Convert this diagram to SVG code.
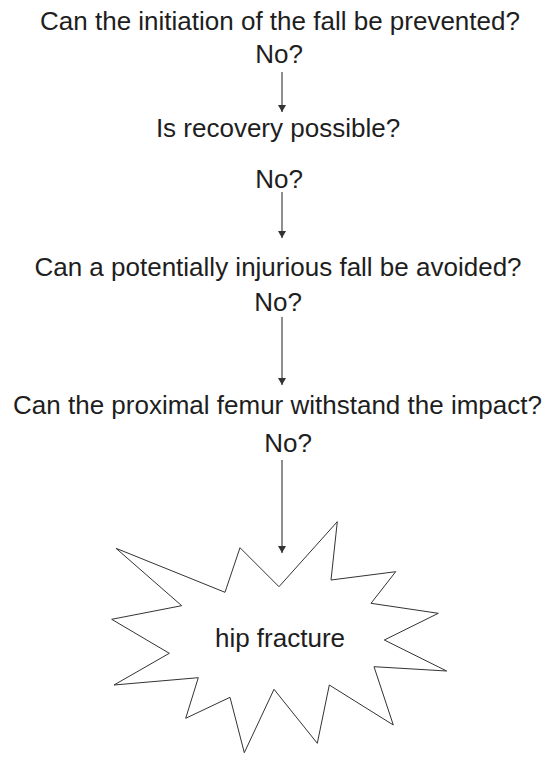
<svg xmlns="http://www.w3.org/2000/svg" width="552" height="762" viewBox="0 0 552 762">
<defs>
<style>
.t{font-family:"Liberation Sans",Arial,sans-serif;font-size:26px;fill:#1e1e1e;text-anchor:middle}
.c{stroke:#444;stroke-width:1.2;fill:none}
</style>
<marker id="ah" markerWidth="8" markerHeight="9" refX="7" refY="4" orient="auto" markerUnits="userSpaceOnUse">
<path d="M0,0 L7,4 L0,8 z" fill="#333"/>
</marker>
</defs>
<rect width="552" height="762" fill="#fff"/>
<g id="q1"><text class="t" x="280" y="30">Can the initiation of the fall be prevented?</text><text class="t" x="279" y="63">No?</text></g>
<g id="q2"><text class="t" x="278" y="137">Is recovery possible?</text><text class="t" x="279" y="188">No?</text></g>
<g id="q3"><text class="t" x="278" y="276">Can a potentially injurious fall be avoided?</text><text class="t" x="278" y="311">No?</text></g>
<g id="q4"><text class="t" x="277.5" y="414">Can the proximal femur withstand the impact?</text><text class="t" x="288" y="452">No?</text></g>
<g id="connectors">
<line class="c" x1="282" y1="72" x2="282" y2="112" marker-end="url(#ah)"/>
<line class="c" x1="282" y1="192" x2="282" y2="238" marker-end="url(#ah)"/>
<line class="c" x1="282" y1="317" x2="282" y2="385" marker-end="url(#ah)"/>
<line class="c" x1="282" y1="460" x2="282" y2="553" marker-end="url(#ah)"/>
</g>
<g id="hip">
<polygon points="116,548.3 225,592.3 240,547.7 279,586.7 337.3,521.7 331,580 395.7,571.7 371,603.3 438.3,613.3 384.3,640 446.7,671 374,666.7 393.3,725 329.3,685 317.3,743.3 274,689.3 244.3,752.7 230,697.3 185.7,718.3 198.3,677.7 114,685 169.3,653.3 111.7,619.3 181.7,605.7" fill="#fff" stroke="#333" stroke-width="1"/>
<text class="t" x="280" y="647">hip fracture</text>
</g>
</svg>
